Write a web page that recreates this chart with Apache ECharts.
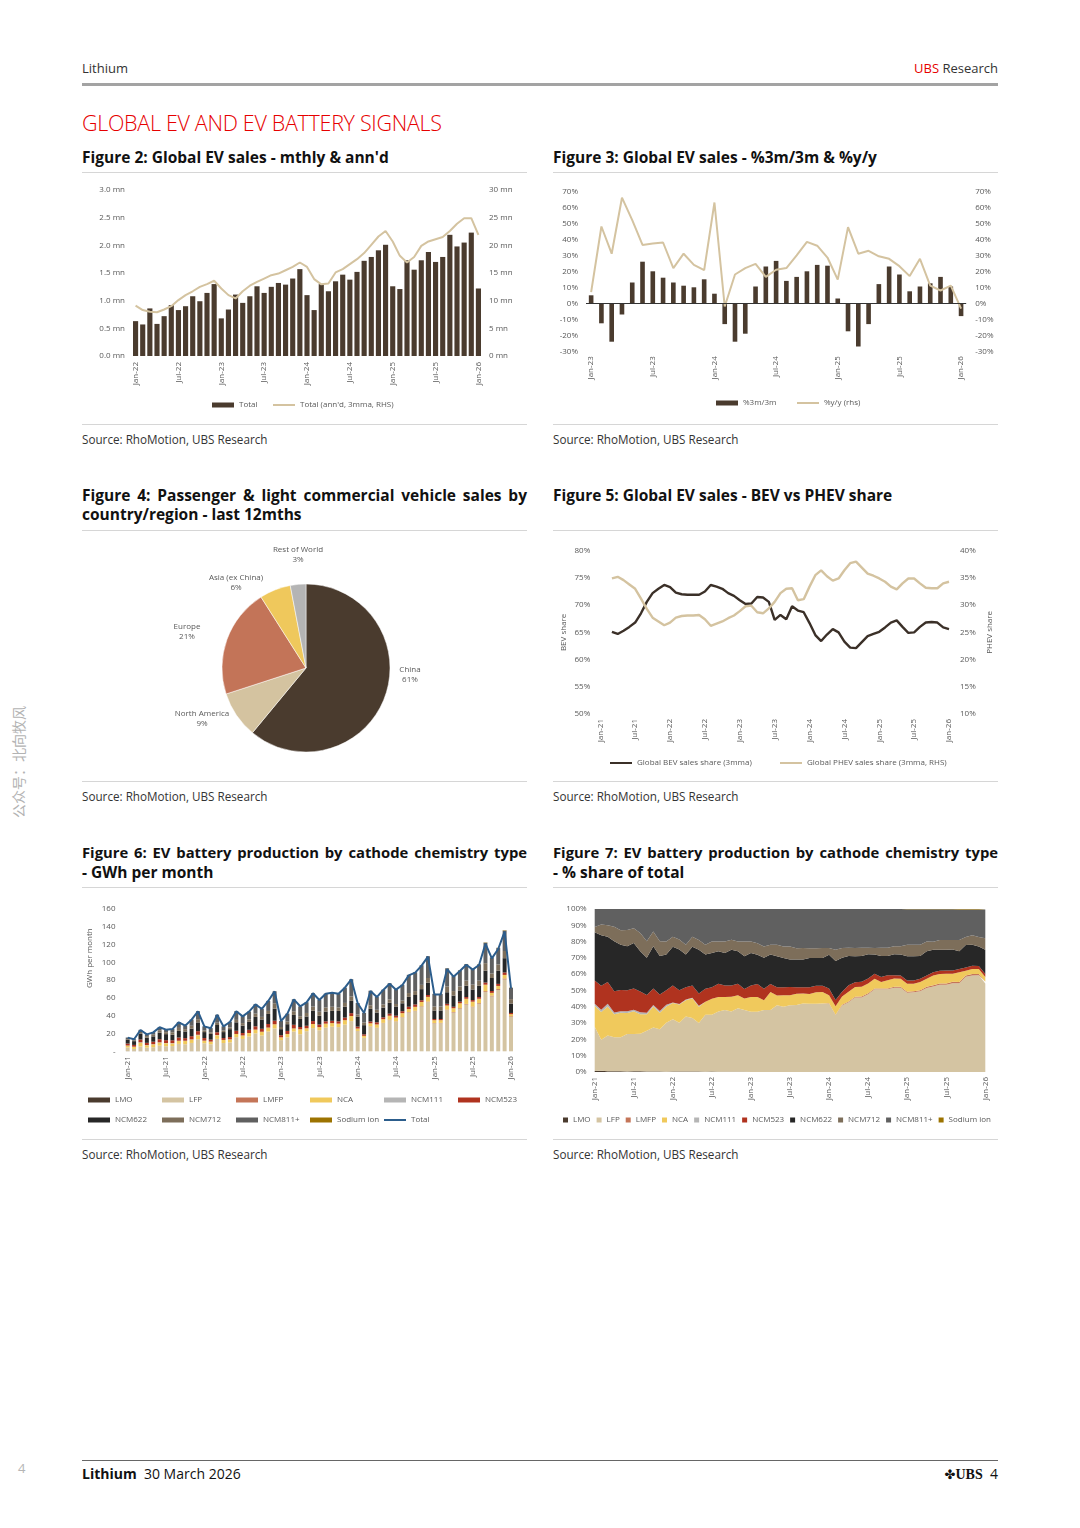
<!DOCTYPE html>
<html><head><meta charset="utf-8">
<script src="https://cdn.jsdelivr.net/npm/echarts@6/dist/echarts.min.js"></script>
<style>
body{margin:0;background:#fff;}
#page{position:relative;width:1080px;height:1528px;overflow:hidden;font-family:'Open Sans',sans-serif;color:#222;background:#fff;}
.t{position:absolute;white-space:nowrap;}
.ttl{position:absolute;font-size:15.5px;line-height:19px;font-weight:700;color:#111;letter-spacing:0;white-space:nowrap;}
.just{text-align:justify;text-align-last:justify;width:445px;}
.sm{font-size:14.8px;}
.rule{position:absolute;height:1px;background:#d6d6d6;width:445px;}
.src{position:absolute;font-size:11.7px;line-height:16px;color:#333;white-space:nowrap;}
.chart{position:absolute;left:0;top:0;width:1080px;height:1528px;}
</style></head>
<body>
<div id="page">
  <div class="t" style="left:82px;top:60px;font-size:13px;line-height:16px;color:#333">Lithium</div>
  <div class="t" style="right:82px;top:60px;font-size:13px;line-height:16px;color:#333"><span style="color:#e60000">UBS</span> Research</div>
  <div style="position:absolute;left:82px;top:83px;width:916px;height:3px;background:#a3a3a3"></div>
  <div class="t" style="left:82px;top:109px;font-size:21.5px;line-height:28px;color:#e60000;font-weight:300;letter-spacing:-0.3px">GLOBAL EV AND EV BATTERY SIGNALS</div>

  <div class="ttl" style="left:82px;top:148px">Figure 2: Global EV sales - mthly &amp; ann'd</div>
  <div class="ttl" style="left:553px;top:148px">Figure 3: Global EV sales - %3m/3m &amp; %y/y</div>
  <div class="rule" style="left:82px;top:172px"></div>
  <div class="rule" style="left:553px;top:172px"></div>
  <div class="rule" style="left:82px;top:424px"></div>
  <div class="rule" style="left:553px;top:424px"></div>
  <div class="src" style="left:82px;top:431px">Source: RhoMotion, UBS Research</div>
  <div class="src" style="left:553px;top:431px">Source: RhoMotion, UBS Research</div>

  <div class="ttl just" style="left:82px;top:486px">Figure 4: Passenger &amp; light commercial vehicle sales by</div>
  <div class="ttl" style="left:82px;top:505px">country/region - last 12mths</div>
  <div class="ttl" style="left:553px;top:486px">Figure 5: Global EV sales - BEV vs PHEV share</div>
  <div class="rule" style="left:82px;top:530px"></div>
  <div class="rule" style="left:553px;top:530px"></div>
  <div class="rule" style="left:82px;top:781px"></div>
  <div class="rule" style="left:553px;top:781px"></div>
  <div class="src" style="left:82px;top:788px">Source: RhoMotion, UBS Research</div>
  <div class="src" style="left:553px;top:788px">Source: RhoMotion, UBS Research</div>

  <div class="ttl just sm" style="left:82px;top:843px">Figure 6: EV battery production by cathode chemistry type</div>
  <div class="ttl" style="left:82px;top:863px">- GWh per month</div>
  <div class="ttl just sm" style="left:553px;top:843px">Figure 7: EV battery production by cathode chemistry type</div>
  <div class="ttl" style="left:553px;top:863px">- % share of total</div>
  <div class="rule" style="left:82px;top:887px"></div>
  <div class="rule" style="left:553px;top:887px"></div>
  <div class="rule" style="left:82px;top:1139px"></div>
  <div class="rule" style="left:553px;top:1139px"></div>
  <div class="src" style="left:82px;top:1146px">Source: RhoMotion, UBS Research</div>
  <div class="src" style="left:553px;top:1146px">Source: RhoMotion, UBS Research</div>

  <div class="t" style="left:18px;top:762px;font-size:14px;line-height:16px;color:#b3b3b3;transform:translate(-50%,-50%) rotate(-90deg);font-family:'Noto Sans CJK SC',sans-serif">公众号：北向牧风</div>

  <div style="position:absolute;left:82px;top:1460px;width:916px;height:1px;background:#666"></div>
  <div class="t" style="left:18px;top:1460px;font-size:13px;line-height:16px;color:#b5b5b5">4</div>
  <div class="t" style="left:82px;top:1465px;font-size:14px;line-height:18px;color:#111"><b>Lithium</b>&nbsp; 30 March 2026</div>
  <div class="t" style="right:82px;top:1465px;font-size:14px;line-height:18px;color:#111"><span style="font-family:'DejaVu Sans';font-size:13px">✤</span><span style="font-family:'Liberation Serif',serif;font-weight:700">UBS</span>&nbsp; 4</div>

  <div id="c2" class="chart"></div>
  <div id="c3" class="chart"></div>
  <div id="c4" class="chart"></div>
  <div id="c5" class="chart"></div>
  <div id="c6" class="chart"></div>
  <div id="c7" class="chart"></div>
</div>
<script>
// ---------------- DATA ----------------
const months = ['Jan-21','Feb-21','Mar-21','Apr-21','May-21','Jun-21','Jul-21','Aug-21','Sep-21','Oct-21','Nov-21','Dec-21',
'Jan-22','Feb-22','Mar-22','Apr-22','May-22','Jun-22','Jul-22','Aug-22','Sep-22','Oct-22','Nov-22','Dec-22',
'Jan-23','Feb-23','Mar-23','Apr-23','May-23','Jun-23','Jul-23','Aug-23','Sep-23','Oct-23','Nov-23','Dec-23',
'Jan-24','Feb-24','Mar-24','Apr-24','May-24','Jun-24','Jul-24','Aug-24','Sep-24','Oct-24','Nov-24','Dec-24',
'Jan-25','Feb-25','Mar-25','Apr-25','May-25','Jun-25','Jul-25','Aug-25','Sep-25','Oct-25','Nov-25','Dec-25','Jan-26'];
const fig2Months = months.slice(12);
const fig3Months = months.slice(24);

// Figure 2: monthly EV sales (mn) and annualised 3mma (mn, RHS)
const fig2Total = [0.63,0.57,0.86,0.58,0.72,0.92,0.83,0.90,1.08,0.99,1.14,1.30,
0.68,0.84,1.11,0.96,1.08,1.26,1.14,1.25,1.32,1.29,1.40,1.57,
1.10,0.83,1.30,1.17,1.35,1.47,1.38,1.52,1.72,1.79,1.91,2.01,
1.26,1.21,1.73,1.56,1.73,1.88,1.70,1.79,2.19,1.98,2.05,2.23,1.22];
const fig2Annd = [9.1,8.3,8.0,7.9,8.4,9.0,10.1,11.0,11.7,12.5,13.0,13.6,
12.2,11.0,10.4,11.7,12.7,13.4,14.0,14.6,14.9,15.5,16.1,16.9,
16.1,13.9,12.95,13.1,15.1,15.7,16.6,17.5,18.6,20.1,21.6,22.6,
20.7,18.1,16.9,17.9,19.9,20.7,21.1,21.5,22.6,23.9,24.9,24.9,21.9];

// Figure 3: %3m/3m (bars) and %y/y (line, RHS)
const fig3Mom = [5,-12.5,-24,-7,13,26,20,16,13,11,10,15,
6,-13,-24,-19,10.5,23,26.5,14,16.5,20,24,23.5,
3,-17.5,-27,-13,12,23,18,7.5,10.5,12.5,16.5,10.5,-8];
const fig3Yoy = [7,48,31,66,52,36.5,37.4,38,22,31,24,20.7,
63,-2,18,22,24.6,16.5,21,22,30,38.4,36,28.6,
14.8,47.6,31,32.8,29.4,27.8,23.2,17,27.8,11,8,11,-3.3];

// Figure 4: last 12 months sales by region (%)
const pieRegions = ['China','North America','Europe','Asia (ex China)','Rest of World'];
const pieShares = [61,9,21,6,3];

// Figure 5: BEV / PHEV share (3mma, %)
const fig5Bev = [null,null,65.1,64.7,65.3,66.0,66.8,68.5,70.6,72.2,73.0,73.7,
73.3,72.3,72.0,71.9,71.9,71.9,72.5,73.7,73.4,73.0,72.2,71.7,
70.9,70.2,70.3,71.5,71.4,70.6,67.3,68.2,67.4,69.8,69.0,68.7,
66.7,64.5,63.4,64.6,65.6,65.0,63.3,62.2,62.1,63.2,64.3,64.7,
65.1,65.9,66.8,67.2,66.0,64.9,65.0,66.0,66.8,66.9,66.8,65.9,65.6];
const fig5Phev = [null,null,34.9,35.2,34.6,33.8,33.0,31.2,29.3,27.7,27.0,26.3,
26.8,27.7,28.0,28.1,28.1,28.2,27.4,26.2,26.6,27.0,27.6,28.1,
28.9,29.8,29.9,28.7,28.5,29.4,30.6,32.2,33.0,33.1,30.9,31.1,
33.4,35.5,36.4,35.3,34.5,34.9,36.4,37.7,38.0,36.9,35.8,35.4,
34.9,34.3,33.4,32.9,34.0,34.9,34.9,34.0,33.2,33.1,33.1,34.0,34.3];

// Figure 6: battery production by chemistry (GWh per month)
const chemNames = ['LMO','LFP','LMFP','NCA','NCM111','NCM523','NCM622','NCM712','NCM811+','Sodium ion'];
const gwhLMO = [0.1,0.1,0.1,0.1,0.1,0.1,0.1,0.1,0.1,0.1,0.1,0.1, 0.1,0.1,0.1,0.1,0.1,0.1,0.1,0.1,0.1,0.1,0.1,0.1,
0,0,0,0,0,0,0,0,0,0,0,0, 0,0,0,0,0,0,0,0,0,0,0,0, 0,0,0,0,0,0,0,0,0,0,0,0,0];
const gwhLFP = [4.2,2.6,5.3,4.0,4.5,6.2,5.6,5.8,8.2,7.8,9.3,13.5,
9.0,7.8,13.9,9.2,9.9,15.8,13.8,16.5,20.1,17.6,22.1,25.6,
12.6,15.7,22.2,19.2,22.6,26.1,23.7,26.6,27.7,27.2,30.0,34.0,
22.7,15.1,27.8,26.2,31.7,35.0,33.3,38.0,43.6,45.1,50.1,55.3,
31.4,31.6,46.3,43.6,47.9,52.6,49.6,53.4,66.6,61.7,69.0,80.7,38.9];
const gwhLMFP = [0,0,0,0,0,0,0,0,0,0,0,0, 0,0,0,0,0,0,0,0,0,0,0,0, 0,0,0,0,0,0,0,0,0,0,0,0,
0.2,0.1,0.3,0.3,0.3,0.4,0.4,0.4,0.5,0.5,0.6,0.6,
0.4,0.4,0.6,0.6,0.7,0.7,0.7,0.8,1.0,0.9,1.0,1.2,0.7];
const gwhNCA = [2.0,2.3,4.3,2.7,3.2,3.5,3.4,3.0,3.3,3.7,3.6,4.5,
2.8,2.9,4.1,3.4,3.3,3.6,3.9,4.0,4.2,4.3,4.5,4.7,
3.1,3.8,3.5,5.6,3.3,4.6,3.5,4.5,4.0,3.9,5.0,5.7,
2.7,2.2,3.4,3.7,4.1,4.6,4.2,4.5,3.4,4.4,4.8,5.3,
3.2,3.0,4.6,4.2,5.4,5.8,5.5,4.9,7.3,3.1,3.5,4.0,2.1];
const gwhNCM111 = [0.2,0.2,0.4,0.2,0.2,0.3,0.2,0.3,0.3,0.3,0.4,0.5,
0.1,0.1,0.2,0.1,0.2,0,0,0,0,0,0,0, 0,0,0,0,0,0,0,0,0,0,0,0,
0,0,0,0,0,0,0,0,0,0,0,0, 0,0,0,0,0,0,0,0,0,0,0,0,0];
const gwhNCM523 = [2.2,2.0,3.2,2.5,2.8,3.5,3.2,3.2,3.6,2.9,3.6,4.0,
2.9,2.2,3.1,2.1,2.5,3.6,2.8,3.6,3.7,3.3,4.0,4.0,
2.4,3.4,4.1,2.5,2.8,3.3,2.9,2.6,2.6,2.6,2.9,3.2,
2.2,1.7,2.0,2.4,2.1,2.3,2.1,2.2,2.6,2.7,1.9,2.1,
1.3,1.3,1.9,1.7,1.8,1.9,1.8,1.9,2.4,2.1,2.3,2.7,1.4];
const gwhNCM622 = [4.6,4.2,6.7,5.9,6.0,7.3,6.8,6.2,7.5,7.5,8.5,9.9,
6.7,6.5,8.2,6.7,8.9,9.5,8.3,8.9,10.6,10.5,11.3,13.5,
6.8,7.6,11.1,9.1,10.5,11.7,9.8,11.0,11.2,11.7,12.2,13.8,
11.3,10.3,14.2,11.0,11.0,12.2,10.4,8.9,11.1,10.6,12.5,13.8,
9.6,9.6,13.0,12.6,12.6,12.7,11.9,12.6,13.3,14.6,15.0,16.1,10.6];
const gwhNCM712 = [0.5,0.9,1.7,1.7,1.9,2.7,2.2,2.8,3.3,2.6,3.2,3.6,
1.7,1.6,2.5,1.7,2.0,2.7,2.8,2.7,3.7,2.9,3.4,6.1,
2.4,3.0,4.1,3.0,3.9,4.6,4.6,4.5,4.6,3.9,4.3,4.9,
2.2,3.0,4.1,3.1,3.5,3.8,2.8,3.0,4.3,4.4,4.8,5.3,
4.5,4.5,6.5,5.0,4.5,5.8,5.5,5.8,8.5,5.2,6.9,8.1,5.0];
const gwhNCM811 = [1.7,1.3,2.4,2.1,2.8,3.5,2.9,3.7,6.5,4.0,7.1,9.0,
4.8,4.9,9.0,4.8,6.3,9.9,7.9,8.9,10.6,9.0,11.3,13.5,
6.8,8.9,13.4,11.1,12.1,15.0,13.3,15.6,15.8,15.6,17.2,19.4,
13.0,10.8,16.3,14.6,16.6,18.2,16.6,17.9,20.5,21.2,22.1,24.5,
14.1,14.1,20.4,16.8,18.1,18.5,17.4,18.4,23.0,17.8,18.4,22.9,12.7];
const gwhSodium = [0,0,0,0,0,0,0,0,0,0,0,0, 0,0,0,0,0,0,0,0,0,0,0,0, 0,0,0,0,0,0,0,0,0,0,0,0,
0,0,0,0,0,0,0,0,0,0,0,0,
0.1,0.1,0.1,0.1,0.2,0.2,0.2,0.2,0.3,0.3,0.3,0.4,0.2];
const gwhTotal = [15.4,13.5,24.0,19.0,21.3,27.0,24.3,25.0,32.6,28.8,35.6,45.0,
28.0,26.0,41.0,28.0,33.0,45.0,39.3,44.6,52.8,47.6,56.6,67.4,
34.0,42.3,58.4,50.6,55.0,65.2,57.7,64.8,65.9,64.8,71.5,80.9,
54.0,43.0,67.8,61.0,69.0,76.0,69.3,74.5,85.4,88.4,96.3,106.4,
64.0,64.0,92.5,83.9,90.3,97.4,91.8,97.0,121.0,104.5,115.0,134.5,70.8];
const chemGwh = [gwhLMO,gwhLFP,gwhLMFP,gwhNCA,gwhNCM111,gwhNCM523,gwhNCM622,gwhNCM712,gwhNCM811,gwhSodium];

// ---------------- STYLE ----------------
const FONT = "'Open Sans', sans-serif";
const LBL = '#595959';
const BROWN = '#4a3b2e';
const BEIGE = '#d4c3a0';
const BLUE = '#2c5d8c';
const chemColors = ['#4a3b2e','#d4c4a2','#c47558','#f0c95c','#b5b5b5','#b0331f','#272727','#7d6e5a','#606060','#9c7300'];
const lbl = (extra) => Object.assign({fontFamily:FONT,fontSize:8,color:LBL}, extra||{});
const noLine = {show:false};
const noTick = {show:false};
const noSplit = {show:false};
function mk(id, opt){
  const c = echarts.init(document.getElementById(id), null, {renderer:'canvas', width:1080, height:1528});
  opt.animation = false;
  opt.textStyle = {fontFamily:FONT};
  c.setOption(opt);
}
function catX(data, extra){
  return Object.assign({type:'category', data:data, axisLine:noLine, axisTick:noTick,
    axisLabel:lbl({interval:5, rotate:90, margin:6})}, extra||{});
}
// one legend entry; bar entries use a 5px block, line entries a 2px stroke
function legItem(name, left, top, isLine){
  return {left:left, top:top, padding:0, icon:'rect', itemWidth:22, itemHeight:isLine?2:5, itemGap:0,
    textStyle:lbl(), data:[name]};
}

// ---------------- FIGURE 2 ----------------
mk('c2', {
  grid:{left:132, top:190, width:350, height:166},
  xAxis: catX(fig2Months),
  yAxis:[
    {type:'value', min:0, max:3, interval:0.5, axisLine:noLine, axisTick:noTick, splitLine:noSplit,
     axisLabel:lbl({margin:7, formatter:v=>v.toFixed(1)+' mn'})},
    {type:'value', min:0, max:30, interval:5, position:'right', axisLine:noLine, axisTick:noTick, splitLine:noSplit,
     axisLabel:lbl({margin:7, formatter:'{value} mn'})}
  ],
  legend:[legItem('Total', 212, 401, false), legItem("Total (ann'd, 3mma, RHS)", 273, 401, true)],
  series:[
    {name:'Total', type:'bar', data:fig2Total, barWidth:'72%', itemStyle:{color:BROWN}},
    {name:"Total (ann'd, 3mma, RHS)", type:'line', yAxisIndex:1, data:fig2Annd, symbol:'none', showSymbol:false,
     lineStyle:{color:BEIGE, width:2}, itemStyle:{color:BEIGE}}
  ]
});

// ---------------- FIGURE 3 ----------------
mk('c3', {
  grid:{left:586, top:191.3, width:380.2, height:160},
  xAxis: catX(fig3Months, {axisLabel:lbl({interval:5, rotate:90, margin:5})}),
  yAxis:[
    {type:'value', min:-30, max:70, interval:10, axisLine:noLine, axisTick:noTick, splitLine:noSplit,
     axisLabel:lbl({margin:8, formatter:'{value}%'})},
    {type:'value', min:-30, max:70, interval:10, position:'right', axisLine:noLine, axisTick:noTick, splitLine:noSplit,
     axisLabel:lbl({margin:9, formatter:'{value}%'})}
  ],
  legend:[legItem('%3m/3m', 716, 399, false), legItem('%y/y (rhs)', 797, 399, true)],
  series:[
    {name:'%3m/3m', type:'bar', data:fig3Mom, barWidth:'45%', itemStyle:{color:BROWN},
     markLine:{silent:true, symbol:'none', label:{show:false}, lineStyle:{color:'#333', width:1, type:'solid'}, data:[{yAxis:0}]}},
    {name:'%y/y (rhs)', type:'line', yAxisIndex:1, data:fig3Yoy, symbol:'none', showSymbol:false,
     lineStyle:{color:BEIGE, width:2}, itemStyle:{color:BEIGE}}
  ]
});

// ---------------- FIGURE 4 ----------------
const pieColors = ['#4a3b2e','#d4c3a0','#c37458','#efc85c','#b4b4b4'];
const pieLabelAt = [[410,675],[202,719],[187,632],[236,583],[298,555]];
mk('c4', {
  series:[{
    type:'pie', center:[306,668], radius:84, startAngle:90, clockwise:true,
    data: pieRegions.map((n,i)=>({name:n, value:pieShares[i], itemStyle:{color:pieColors[i]}})),
    label:{show:true, position:'outside', formatter:'{b}\n{c}%', fontFamily:FONT, fontSize:8, color:LBL, lineHeight:10, align:'center'},
    labelLine:{show:false},
    labelLayout:(p)=>({x:pieLabelAt[p.dataIndex][0], y:pieLabelAt[p.dataIndex][1], align:'center', verticalAlign:'middle'}),
    itemStyle:{borderColor:'#fff', borderWidth:0.5},
    emphasis:{disabled:true}
  }]
});

// ---------------- FIGURE 5 ----------------
mk('c5', {
  grid:{left:600.3, top:550.7, width:348.7, height:163.3},
  xAxis: catX(months, {boundaryGap:false, axisLabel:lbl({interval:5, rotate:90, margin:5})}),
  yAxis:[
    {type:'value', min:50, max:80, interval:5, axisLine:noLine, axisTick:noTick, splitLine:noSplit,
     axisLabel:lbl({margin:10, formatter:'{value}%'}),
     name:'BEV share', nameLocation:'middle', nameRotate:90, nameGap:33, nameTextStyle:lbl()},
    {type:'value', min:10, max:40, interval:5, position:'right', axisLine:noLine, axisTick:noTick, splitLine:noSplit,
     axisLabel:lbl({margin:11, formatter:'{value}%'}),
     name:'PHEV share', nameLocation:'middle', nameRotate:90, nameGap:37, nameTextStyle:lbl()}
  ],
  legend:[legItem('Global BEV sales share (3mma)', 610, 759, true),
          legItem('Global PHEV sales share (3mma, RHS)', 780, 759, true)],
  series:[
    {name:'Global BEV sales share (3mma)', type:'line', data:fig5Bev, symbol:'none', showSymbol:false,
     lineStyle:{color:'#3b3028', width:2.4}, itemStyle:{color:'#3b3028'}},
    {name:'Global PHEV sales share (3mma, RHS)', type:'line', yAxisIndex:1, data:fig5Phev, symbol:'none', showSymbol:false,
     lineStyle:{color:BEIGE, width:2.4}, itemStyle:{color:BEIGE}}
  ]
});

// ---------------- FIGURE 6 ----------------
const fig6Series = chemNames.map((n,i)=>({name:n, type:'bar', stack:'gwh', data:chemGwh[i], barWidth:'62%',
  itemStyle:{color:chemColors[i]}}));
fig6Series.push({name:'Total', type:'line', data:gwhTotal, symbol:'none', showSymbol:false,
  lineStyle:{color:BLUE, width:2}, itemStyle:{color:BLUE}, z:5});
const fig6LegendNames = chemNames.concat(['Total']);
const fig6Legends = fig6LegendNames.map((n,k)=>legItem(n, 88 + 74*(k%6), k<6 ? 1096 : 1116, n==='Total'));
mk('c6', {
  grid:{left:124.5, top:909, width:389.7, height:142.3},
  xAxis: catX(months, {axisLabel:lbl({interval:5, rotate:90, margin:5})}),
  yAxis:{type:'value', min:0, max:160, interval:20, axisLine:noLine, axisTick:noTick, splitLine:noSplit,
    axisLabel:lbl({margin:9, formatter:v=>v===0?'-':String(v)}),
    name:'GWh per month', nameLocation:'middle', nameRotate:90, nameGap:31, nameTextStyle:lbl({padding:[0,0,0,44]})},
  legend: fig6Legends,
  series: fig6Series
});

// ---------------- FIGURE 7 ----------------
const monthSum = months.map((m,j)=>chemGwh.reduce((s,arr)=>s+arr[j],0));
const fig7Series = chemNames.map((n,i)=>({name:n, type:'line', stack:'share', symbol:'none', showSymbol:false,
  data: chemGwh[i].map((v,j)=>v/monthSum[j]*100),
  lineStyle:{width:0}, areaStyle:{color:chemColors[i], opacity:1}, itemStyle:{color:chemColors[i]}}));
mk('c7', {
  grid:{left:594.7, top:909, width:390.6, height:163},
  xAxis: catX(months, {boundaryGap:false, axisLabel:lbl({interval:5, rotate:90, margin:5})}),
  yAxis:{type:'value', min:0, max:100, interval:10, axisLine:noLine, axisTick:noTick, splitLine:noSplit,
    axisLabel:lbl({margin:8, formatter:'{value}%'})},
  legend:{left:563, top:1116, padding:0, icon:'rect', itemWidth:5, itemHeight:5, itemGap:6, textStyle:lbl(), data:chemNames},
  series: fig7Series
});
</script>
</body></html>
